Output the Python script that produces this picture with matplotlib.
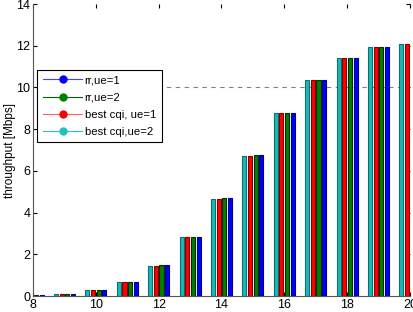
import matplotlib.pyplot as plt
from matplotlib.lines import Line2D

plt.rcParams['font.family'] = ['Liberation Sans', 'DejaVu Sans']

# data
snr = [8, 9, 10, 11, 12, 13, 14, 15, 16, 17, 18, 19, 20]
best_cqi_ue2 = [0.03, 0.10, 0.28, 0.66, 1.43, 2.82, 4.65, 6.72, 8.77, 10.38, 11.42, 11.95, 12.10]
best_cqi_ue1 = [0.03, 0.10, 0.28, 0.66, 1.43, 2.82, 4.65, 6.72, 8.77, 10.38, 11.42, 11.95, 12.10]
rr_ue2 = [0.03, 0.10, 0.29, 0.66, 1.47, 2.82, 4.68, 6.76, 8.80, 10.38, 11.42, 11.95, 12.10]
rr_ue1 = [0.03, 0.10, 0.29, 0.66, 1.47, 2.82, 4.68, 6.76, 8.80, 10.38, 11.42, 11.95, 12.10]

series = [
    (best_cqi_ue2, '#1cb8b8', '#0a7070'),
    (best_cqi_ue1, '#ff0000', '#800000'),
    (rr_ue2, '#007f00', '#003000'),
    (rr_ue1, '#0000ff', '#000080'),
]
offsets = [-0.27, -0.09, 0.09, 0.27]

fig = plt.figure(figsize=(4.14, 3.12), dpi=100)
ax = fig.add_axes([0.08, 0.051, 0.91, 0.936])

ax.axhline(10, color='gray', linestyle=(0, (4, 4)), linewidth=0.8, zorder=1)

for (vals, fc, ec), off in zip(series, offsets):
    ax.bar([s + off for s in snr], vals, width=0.13, color=fc, edgecolor=ec,
           linewidth=0.8, zorder=2)

ax.set_xlim(8, 20)
ax.set_ylim(0, 14)
ax.set_xticks(range(8, 21, 2))
ax.set_yticks(range(0, 15, 2))
ax.tick_params(direction='in', top=True, right=True, labelsize=9, length=3,
               color='black', pad=2)
for side in ['top', 'right']:
    ax.spines[side].set_visible(False)
for side in ['left', 'bottom']:
    ax.spines[side].set_color('#555555')
ax.set_ylabel('throughput [Mbps]', fontsize=8.5, labelpad=0)

handles = [
    Line2D([], [], color='#4040ff', marker='o', markersize=5, markerfacecolor='#0000ff',
           markeredgecolor='#0000ff', linewidth=0.8),
    Line2D([], [], color='#006000', marker='o', markersize=5, markerfacecolor='#007f00',
           markeredgecolor='#007f00', linewidth=0.8),
    Line2D([], [], color='#ff6060', marker='o', markersize=5, markerfacecolor='#ff0000',
           markeredgecolor='#ff0000', linewidth=0.8),
    Line2D([], [], color='#30c0c0', marker='o', markersize=5, markerfacecolor='#20c0c0',
           markeredgecolor='#20c0c0', linewidth=0.8),
]
labels = ['rr,ue=1', 'rr,ue=2', 'best cqi, ue=1', 'best cqi,ue=2']
leg = ax.legend(handles, labels, loc='upper left', bbox_to_anchor=(0.01, 0.775),
                fontsize=8.2, fancybox=False, framealpha=1, edgecolor='black',
                handlelength=3.5, borderpad=0.5, labelspacing=0.62, handletextpad=0.2,
                borderaxespad=0)
leg.get_frame().set_linewidth(0.8)
leg.set_zorder(5)

fig.savefig('out.png', dpi=100)
